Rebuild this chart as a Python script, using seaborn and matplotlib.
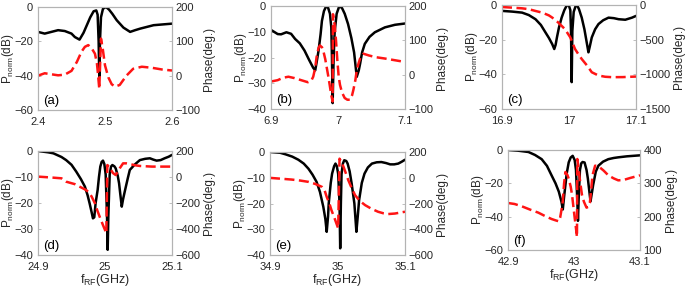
import numpy as np
import matplotlib
matplotlib.use("Agg")
import matplotlib.pyplot as plt
import seaborn as sns

# ---- panel (a) ----
fa_p = [2.400, 2.410, 2.420, 2.430, 2.440, 2.450, 2.455, 2.462, 2.468, 2.473, 2.478, 2.483, 2.487,
        2.489, 2.4905, 2.4915, 2.4925, 2.494, 2.497, 2.5015, 2.506, 2.511, 2.5175, 2.5275, 2.5375,
        2.545, 2.5525, 2.5725, 2.600]
pa = [-14.5, -15.5, -14.5, -13.5, -14.0, -15.5, -17.5, -19.0, -15.0, -10.5, -6.0, -2.5, -2.0,
      -4.5, -20, -40.5, -20, -6, -1.0, 0, -1.5, -4.0, -7.7, -12.0, -14.5,
      -13.5, -12.6, -10.6, -9.7]
fa_ph = [2.400, 2.410, 2.420, 2.430, 2.440, 2.450, 2.458, 2.465, 2.470, 2.475, 2.480, 2.485, 2.488,
         2.4895, 2.4915, 2.493, 2.494, 2.4965, 2.500, 2.505, 2.510, 2.515, 2.522, 2.532, 2.542,
         2.555, 2.570, 2.585, 2.600]
pha = [0, 7, 4, 1, 3, 14, 40, 70, 84, 89, 80, 64, 35,
       5, -39, 50, 108, 80, 30, -5, -25, -32, -27, 0, 20,
       26, 23, 18, 15]

# ---- panel (b) ----
fb_p = [6.900, 6.910, 6.915, 6.923, 6.930, 6.936, 6.943, 6.950, 6.957, 6.963, 6.966, 6.968, 6.971,
        6.974, 6.976, 6.979, 6.982, 6.985, 6.988, 6.990, 6.991, 6.992, 6.9935, 6.995, 6.998, 7.002,
        7.006, 7.010, 7.015, 7.020, 7.024, 7.028, 7.031, 7.033, 7.036, 7.040, 7.047, 7.055, 7.070,
        7.085, 7.100]
pb = [-9.3, -10.9, -11.0, -10.2, -10.8, -12.8, -14.5, -17.3, -21, -24, -25.0, -22, -17.3,
      -11, -5.8, -2, -0.3, -0.5, -3, -8.3, -20, -37.7, -20, -10, -3, 0,
      -0.8, -3, -7, -12.5, -18, -27.5, -25, -22.4, -18, -14.7, -12, -10.2, -8.3,
      -7.3, -6.8]
fb_ph = [6.900, 6.910, 6.918, 6.926, 6.935, 6.945, 6.955, 6.960, 6.963, 6.966, 6.968, 6.971, 6.973,
         6.976, 6.978, 6.981, 6.983, 6.986, 6.988, 6.990, 6.992, 6.9925, 6.995, 6.997, 6.999, 7.001,
         7.003, 7.006, 7.010, 7.014, 7.018, 7.021, 7.023, 7.026, 7.028, 7.031, 7.033, 7.038, 7.046,
         7.056, 7.070, 7.085, 7.100]
phb = [-20, -16, -9, -6, -10, -16, -22, -18, -6, 20, 51, 78, 85,
       80, 70, 45, 23, -10, -35, -60, -78, 176, 145, 100, 42, -5,
       -30, -52, -68, -73, -73, -60, -44, -15, 13, 35, 47, 61, 56,
       51, 47, 42, 37]

# ---- panel (c) ----
fc_p = [16.900, 16.915, 16.930, 16.940, 16.950, 16.958, 16.965, 16.970, 16.975, 16.978, 16.980,
        16.982, 16.985, 16.989, 16.993, 16.997, 17.000, 17.002, 17.003, 17.004, 17.005, 17.007,
        17.010, 17.012, 17.015, 17.019, 17.023, 17.026, 17.029, 17.031, 17.034, 17.039, 17.044,
        17.051, 17.059, 17.067, 17.074, 17.084, 17.094, 17.100]
pc = [-3.4, -3.8, -4.4, -5.8, -8.2, -11.5, -15.9, -19, -22.6, -25.4, -23,
      -18.7, -13, -7.3, -3, 0, -0.5, -3, -15, -44.5, -15, -4,
      -0.5, 0, -2.5, -7.3, -14, -20.6, -27.3, -24, -18.7, -14, -11,
      -8.8, -7.3, -7.6, -8.2, -8.5, -7.3, -6.3]
fc_ph = [16.900, 16.915, 16.930, 16.940, 16.950, 16.960, 16.970, 16.975, 16.984, 16.994, 17.002,
         17.009, 17.014, 17.019, 17.027, 17.034, 17.044, 17.054, 17.064, 17.080, 17.100]
phc = [-29, -38, -48, -60, -86, -110, -150, -182, -253, -349, -468,
       -635, -710, -779, -874, -970, -1017, -1035, -1041, -1040, -1032]

# ---- panel (d) ----
fd_p = [24.900, 24.915, 24.923, 24.935, 24.942, 24.950, 24.957, 24.964, 24.970, 24.974, 24.977,
        24.980, 24.982, 24.984, 24.986, 24.989, 24.991, 24.993, 24.995, 24.997, 24.999, 25.001,
        25.003, 25.004, 25.005, 25.007, 25.009, 25.011, 25.014, 25.016, 25.019, 25.021, 25.023,
        25.025, 25.027, 25.030, 25.034, 25.037, 25.044, 25.052, 25.060, 25.067, 25.072, 25.077,
        25.083, 25.089, 25.095, 25.100]
pd_ = [0, -0.5, -0.9, -2.3, -3.5, -5.3, -7.9, -10.8, -13.7, -17, -20.1,
       -23.5, -25.9, -25.5, -20, -15, -10, -6, -4.2, -3.7, -5, -9,
       -25, -38, -25, -9, -6, -5.4, -5.9, -6.7, -9.5, -12.4, -17,
       -21.4, -18.5, -15, -10.5, -7.3, -5.3, -3.5, -3.0, -2.8, -3.3, -3.7,
       -3.5, -2.8, -2.2, -1.5]
fd_ph = [24.900, 24.920, 24.935, 24.942, 24.955, 24.962, 24.970, 24.975, 24.980, 24.985, 24.988,
         24.992, 24.997, 25.002, 25.0035, 25.006, 25.009, 25.012, 25.016, 25.019, 25.022, 25.025,
         25.027, 25.032, 25.037, 25.045, 25.052, 25.070, 25.085, 25.100]
phd = [3, -4, -10, -36, -55, -74, -95, -113, -150, -203, -250,
       -305, -370, -433, 92, 80, 54, 30, 15, 40, 67, 90,
       105, 105, 100, 90, 85, 80, 80, 80]

# ---- panel (e) ----
fe_p = [34.900, 34.915, 34.923, 34.933, 34.942, 34.950, 34.957, 34.963, 34.969, 34.974, 34.979,
        34.982, 34.984, 34.986, 34.987, 34.990, 34.992, 34.995, 34.997, 34.999, 35.001, 35.003,
        35.004, 35.005, 35.006, 35.008, 35.010, 35.013, 35.015, 35.018, 35.021, 35.025, 35.028,
        35.030, 35.032, 35.036, 35.040, 35.045, 35.051, 35.058, 35.065, 35.072, 35.078, 35.084,
        35.090, 35.095, 35.100]
pe = [0, -0.3, -0.9, -1.8, -3.0, -4.5, -6.5, -8.8, -11.6, -15.5, -21.3,
      -26, -31, -25, -20, -12, -8.4, -5.5, -4.5, -5.5, -8.5, -20,
      -37.4, -20, -8.5, -4.5, -3.2, -3.5, -4.5, -7.5, -12.3, -20, -31,
      -25, -18.7, -12, -8.4, -6, -4.5, -4, -3.9, -4.3, -4.8, -4.8,
      -4.5, -3.8, -3.0]
fe_ph = [34.900, 34.915, 34.932, 34.945, 34.957, 34.967, 34.977, 34.981, 34.984, 34.988, 34.991,
         34.996, 35.001, 35.003, 35.006, 35.009, 35.012, 35.016, 35.021, 35.026, 35.033, 35.041,
         35.050, 35.060, 35.068, 35.075, 35.085, 35.100]
phe = [-1, -7, -14, -22, -32, -48, -71, -100, -148, -200, -251,
       -320, -393, 148, 120, 84, 40, -19, -80, -135, -180, -213,
       -240, -264, -276, -282, -278, -264]

# ---- panel (f) ----
ff_p = [42.900, 42.915, 42.931, 42.941, 42.951, 42.959, 42.966, 42.972, 42.977, 42.981, 42.983,
        42.985, 42.987, 42.989, 42.992, 42.995, 42.998, 43.001, 43.003, 43.005, 43.006, 43.007,
        43.009, 43.011, 43.013, 43.016, 43.019, 43.021, 43.023, 43.025, 43.027, 43.029, 43.033,
        43.037, 43.044, 43.052, 43.060, 43.067, 43.080, 43.090, 43.100]
pf = [0, -0.4, -1.2, -3, -5.5, -9.5, -15.2, -20, -25, -31, -35.7,
      -28, -21, -14, -7.4, -4.5, -3.5, -6, -12, -30, -42.5, -30,
      -12, -8, -7.2, -7.5, -12, -17.1, -24, -30.8, -26, -21, -13,
      -9.4, -7, -5.5, -4.8, -4.4, -3.8, -3.5, -3.2]
ff_ph = [42.900, 42.910, 42.921, 42.935, 42.946, 42.956, 42.966, 42.972, 42.977, 42.979, 42.981,
         42.983, 42.985, 42.987, 42.990, 42.992, 42.995, 42.997, 43.001, 43.003, 43.0045, 43.005,
         43.007, 43.008, 43.010, 43.012, 43.015, 43.019, 43.022, 43.024, 43.026, 43.028, 43.032,
         43.036, 43.039, 43.045, 43.052, 43.060, 43.067, 43.075, 43.085, 43.100]
phf = [241, 238, 231, 220, 212, 202, 193, 189, 186, 197, 220,
       246, 300, 334, 325, 314, 290, 266, 197, 165, 139, 373,
       345, 324, 295, 266, 245, 227, 230, 241, 280, 324, 353,
       352, 348, 338, 324, 315, 309, 310, 316, 324]

labels = ["(a)", "(b)", "(c)", "(d)", "(e)", "(f)"]
xticklabels = [["2.4", "2.5", "2.6"], ["6.9", "7", "7.1"], ["16.9", "17", "17.1"],
               ["24.9", "25", "25.1"], ["34.9", "35", "35.1"], ["42.9", "43", "43.1"]]
left_ticks = [[-60, -40, -20, 0], [-40, -30, -20, -10, 0], [-60, -40, -20, 0],
              [-40, -30, -20, -10, 0], [-40, -30, -20, -10, 0], [-60, -40, -20, 0]]
right_ticks = [[-100, 0, 100, 200], [-100, 0, 100, 200], [-1500, -1000, -500, 0],
               [-600, -400, -200, 0, 200], [-600, -400, -200, 0, 200], [100, 200, 300, 400]]

power = [(fa_p, pa), (fb_p, pb), (fc_p, pc), (fd_p, pd_), (fe_p, pe), (ff_p, pf)]
phase = [(fa_ph, pha), (fb_ph, phb), (fc_ph, phc), (fd_ph, phd), (fe_ph, phe), (ff_ph, phf)]

sns.set_style("white")
plt.rcParams["font.family"] = ["Liberation Sans", "DejaVu Sans"]
plt.rcParams["mathtext.fontset"] = "custom"
plt.rcParams["mathtext.rm"] = "Liberation Sans"
plt.rcParams["mathtext.it"] = "Liberation Sans"

W, H = 685, 292
fig = plt.figure(figsize=(W / 100, H / 100), dpi=100)

# axes boxes in pixels: left, top, right, bottom
boxes = [(38, 7, 172, 110), (271, 6, 405, 109), (502, 5, 636, 109),
         (38, 151, 172, 255), (270, 152, 405, 255), (508, 150, 640, 250)]

grey = "#b3b3b3"
txt = "#262626"
fs = 8

for i in range(6):
    l, t, r, b = boxes[i]
    ax = fig.add_axes([l / W, 1 - b / H, (r - l) / W, (b - t) / H])
    ax2 = ax.twinx()
    x0 = float(xticklabels[i][0])
    x1 = float(xticklabels[i][2])

    sns.lineplot(x=power[i][0], y=power[i][1], ax=ax, color="black", lw=1.8,
                 sort=False, estimator=None)
    sns.lineplot(x=phase[i][0], y=phase[i][1], ax=ax2, color="#ff1414", lw=1.8,
                 linestyle=(0, (4, 1.8)), sort=False, estimator=None)

    ax.set_xlim(x0, x1)
    ax.set_xticks([x0, (x0 + x1) / 2, x1])
    ax.set_xticklabels(xticklabels[i])
    ax.set_ylim(left_ticks[i][0], left_ticks[i][-1])
    ax.set_yticks(left_ticks[i])
    ax2.set_ylim(right_ticks[i][0], right_ticks[i][-1])
    ax2.set_yticks(right_ticks[i])

    for a in (ax, ax2):
        for s in a.spines.values():
            s.set_color(grey)
            s.set_linewidth(0.8)
    ax.tick_params(axis="y", direction="in", length=2, width=0.6, color=grey,
                   labelsize=fs, labelcolor=txt, pad=3.5)
    ax2.tick_params(axis="y", direction="in", length=2, width=0.6, color=grey,
                    labelsize=fs, labelcolor=txt, pad=2.5)
    ax.tick_params(axis="x", direction="in", length=2, width=0.6, color=grey,
                   labelsize=fs, labelcolor=txt, pad=5)

    ax.set_ylabel("P$_{\\mathrm{norm}}$(dB)", fontsize=fs + 0.5, color=txt)
    ax.yaxis.set_label_coords(-22 / (r - l), 0.5)
    ax2.set_ylabel("Phase(deg.)", fontsize=fs + 0.5, color=txt, labelpad=2)
    if i >= 3:
        ax.set_xlabel("f$_{\\mathrm{RF}}$(GHz)", fontsize=fs + 1, color=txt, labelpad=0)
    ax.text(0.04, 0.03, labels[i], transform=ax.transAxes, fontsize=fs + 1.5,
            color="black", va="bottom", ha="left")

fig.savefig("out.png", dpi=100)
